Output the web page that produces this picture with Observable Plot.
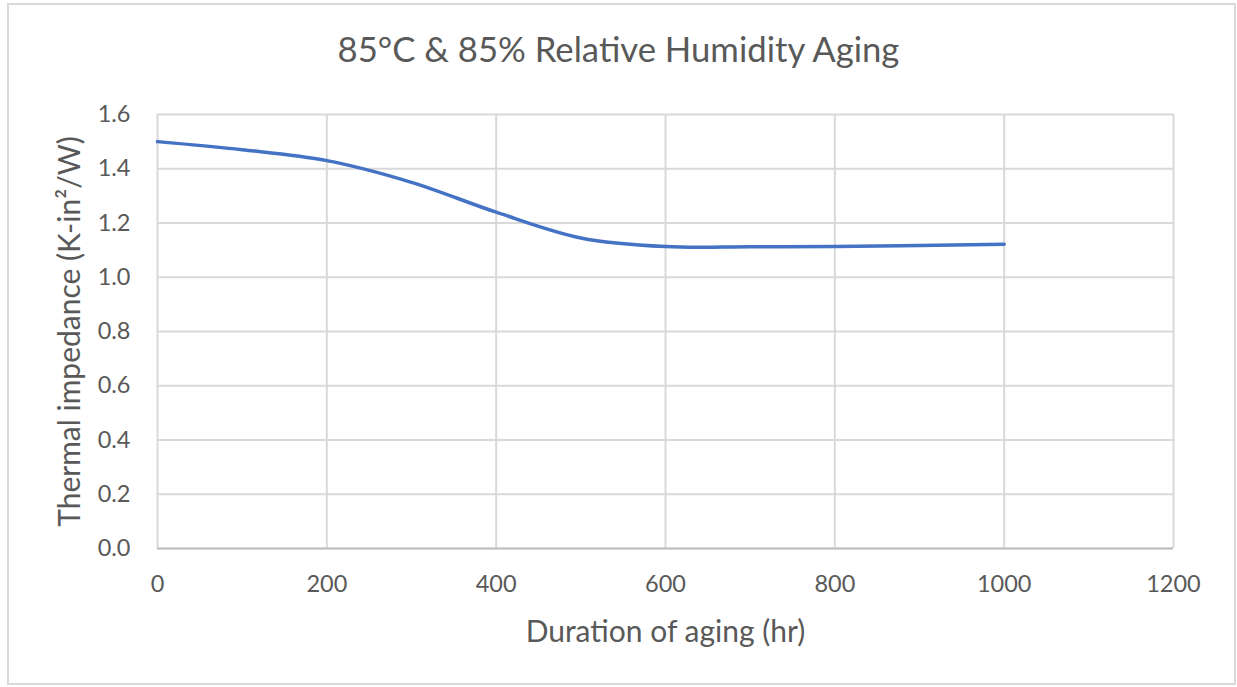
<!DOCTYPE html>
<html>
<head>
<meta charset="utf-8">
<script src="https://cdn.jsdelivr.net/npm/d3@7"></script>
<script src="https://cdn.jsdelivr.net/npm/@observablehq/plot@0.6"></script>
<style>
  html, body { margin: 0; padding: 0; background: #fff; }
  #frame { position: absolute; left: 7px; top: 3px; width: 1229px; height: 682px; border: 2px solid #d9d9d9; box-sizing: border-box; }
  #title { position: absolute; left: 0; top: 28px; width: 1237px; text-align: center; font-family: Lato, sans-serif; font-size: 34.7px; color: #595959; }
  #chart { position: absolute; left: 0; top: 95px; }
</style>
</head>
<body>
<div id="frame"></div>
<div id="title">85°C &amp; 85% Relative Humidity Aging</div>
<div id="chart"></div>
<script>
const hours = [0, 100, 200, 300, 400, 500, 600, 700, 800, 900, 1000];
const impedance = [1.50, 1.47, 1.43, 1.35, 1.24, 1.145, 1.113, 1.112, 1.113, 1.117, 1.122];
const xTicks = [0, 200, 400, 600, 800, 1000, 1200];
const yTicks = [0.0, 0.2, 0.4, 0.6, 0.8, 1.0, 1.2, 1.4, 1.6];

const data = hours.map((h, i) => ({h, v: impedance[i]}));

const chart = Plot.plot({
  width: 1237,
  height: 573,
  marginLeft: 157,
  marginRight: 64,
  marginTop: 19,
  marginBottom: 120,
  style: {fontFamily: "Lato, sans-serif", fontSize: "23px", color: "#595959", background: "transparent"},
  x: {domain: [0, 1200], ticks: xTicks, label: null},
  y: {domain: [0, 1.6], ticks: yTicks, label: null},
  marks: [
    Plot.gridX(xTicks, {stroke: "#d9d9d9", strokeOpacity: 1, strokeWidth: 2}),
    Plot.gridY(yTicks, {stroke: "#d9d9d9", strokeOpacity: 1, strokeWidth: 2}),
    Plot.ruleY([0], {stroke: "#bfbfbf", strokeWidth: 2}),
    Plot.axisX(xTicks, {tickSize: 0, tickPadding: 27, tickFormat: d => String(d), fill: "#595959", fontSize: 23.5, label: null}),
    Plot.axisY(yTicks, {tickSize: 0, tickPadding: 27, tickFormat: d => d.toFixed(1), fill: "#595959", fontSize: 23.5, label: null}),
    Plot.line(data, {x: "h", y: "v", stroke: "#4472C4", strokeWidth: 3.5, curve: "catmull-rom"}),
    Plot.text(["Duration of aging (hr)"], {frameAnchor: "bottom", dy: 93, text: d => d, fontSize: 30, fill: "#595959"}),
    Plot.text(["Thermal impedance (K-in²/W)"], {frameAnchor: "left", dx: -87, rotate: -90, textAnchor: "middle", text: d => d, fontSize: 30, fill: "#595959"})
  ]
});
document.getElementById("chart").appendChild(chart);
</script>
</body>
</html>
